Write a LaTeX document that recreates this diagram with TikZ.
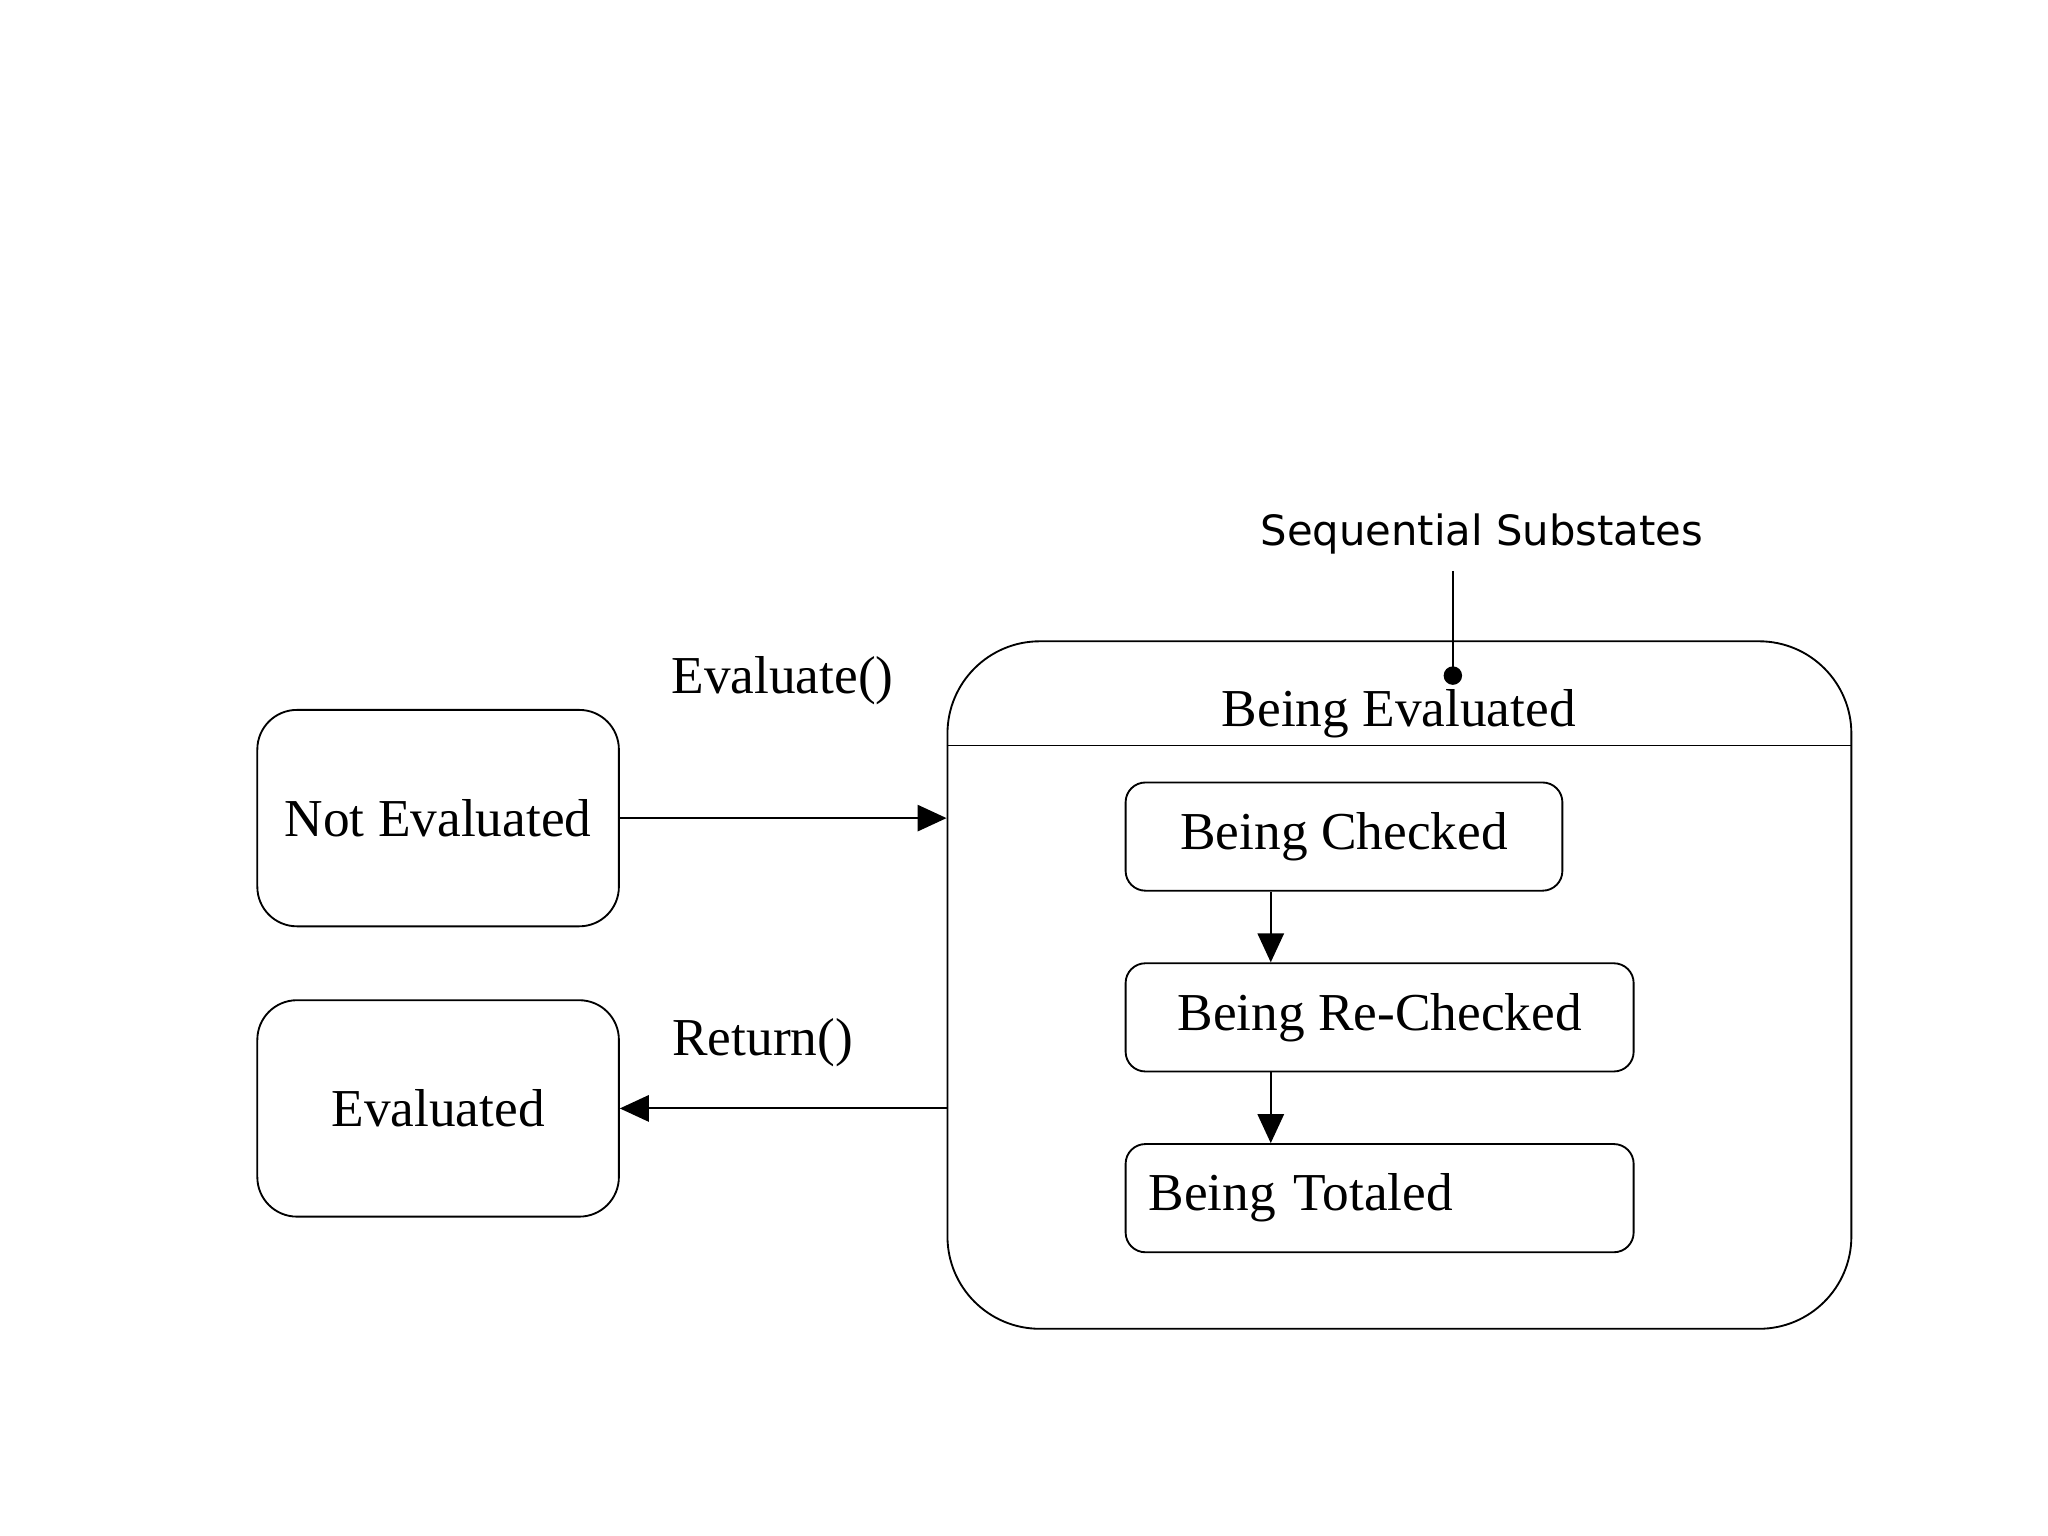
\documentclass[tikz,border=0pt]{standalone}
\usepackage{fontspec}
\setmainfont{Liberation Serif}
\newfontfamily\labelsans{DejaVu Sans}
\usetikzlibrary{arrows.meta, positioning, calc}

\begin{document}
\begin{tikzpicture}[
    state/.style={draw, rectangle, rounded corners=0.3cm, minimum width=2.74cm, minimum height=1.64cm, align=center, font=\fontsize{11.5}{13}\selectfont},
    substate/.style={draw, rectangle, rounded corners=0.15cm, minimum height=0.82cm, font=\fontsize{11.5}{13}\selectfont},
    arrow/.style={-{Triangle[length=0.22cm, width=0.2cm]}}
]
\useasboundingbox (0,0) rectangle (15.52,11.64);

\node[state] (noteval) at (3.32,5.44) {Not Evaluated};
\node[state] (eval) at (3.32,3.24) {Evaluated};

\node[draw, rectangle, rounded corners=0.7cm, minimum width=6.85cm, minimum height=5.21cm] (being) at (10.605,4.175) {};
\draw (being.west |- 0,5.99) coordinate (divl) -- (being.east |- 0,5.99) coordinate (divr);
\node[font=\fontsize{11.5}{13}\selectfont] (title) at (10.6,6.23) {Being Evaluated};

\node[substate, minimum width=3.31cm] (checked) at (10.185,5.30) {Being Checked};
\node[substate, minimum width=3.85cm] (rechecked) at (10.455,3.93) {Being Re-Checked};
\node[substate, minimum width=3.85cm, text width=3.5cm] (totaled) at (10.455,2.56) {Being Totaled};

\node[font=\labelsans\fontsize{9}{11}\selectfont] (seq) at (11.23,7.59) {Sequential Substates};
\coordinate (dot) at (11.01,6.52);
\fill (dot) circle (0.07);
\draw (seq.south -| dot) -- (dot);

\node[font=\fontsize{11.5}{13}\selectfont] (evallbl) at (5.93,6.48) {Evaluate()};
\node[font=\fontsize{11.5}{13}\selectfont] (retlbl) at (5.78,3.74) {Return()};

\draw[arrow] (noteval.east) -- (noteval.east -| being.west);
\draw[arrow] (eval.east -| being.west) -- (eval.east);
\draw[arrow] (checked.south -| 9.63,0) -- (rechecked.north -| 9.63,0);
\draw[arrow] (rechecked.south -| 9.63,0) -- (totaled.north -| 9.63,0);

\end{tikzpicture}
\end{document}
